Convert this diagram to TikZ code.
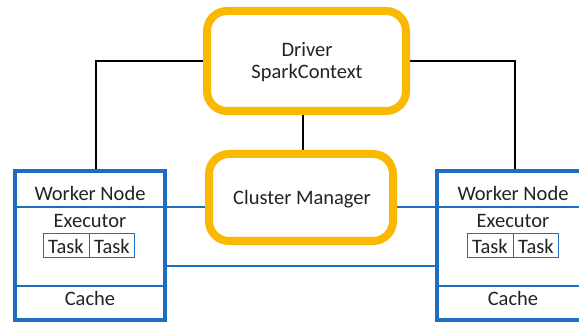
\documentclass[tikz,border=0pt]{standalone}
\usepackage{fontspec}
\setmainfont{Carlito}
\definecolor{sparkgold}{RGB}{250,184,0}
\definecolor{nodeblue}{RGB}{28,110,192}
\definecolor{inktext}{RGB}{35,35,35}
\begin{document}
\begin{tikzpicture}[x=1pt,y=-1pt,
  every node/.style={font=\fontsize{20.5}{23}\selectfont, text=inktext, inner sep=0pt},
  goldbox/.style={draw=sparkgold, line width=8pt, rounded corners=20pt, fill=white},
  workerbox/.style={draw=nodeblue, line width=4pt},
  divider/.style={draw=nodeblue, line width=1.6pt},
  taskbox/.style={draw=nodeblue, line width=1pt},
  blackwire/.style={draw=black, line width=2.8pt},
  bluewire/.style={draw=nodeblue, line width=2.4pt}]
\useasboundingbox (0,0) rectangle (579,323);
\clip (0,0) rectangle (579,323);

% connector anchors
\coordinate (dL) at (207,61);
\coordinate (dR) at (406,61);
\coordinate (wLtop) at (96,171);
\coordinate (wRtop) at (515,171);
\coordinate (cTop) at (303,154);
\coordinate (dBot) at (303,111);

% control plane wiring (behind the boxes)
\draw[blackwire] (dL) -| (wLtop);
\draw[blackwire] (dR) -| (wRtop);
\draw[blackwire] (dBot) -- (cTop);
\draw[bluewire] (165,207) coordinate (wLa) -- (209,207) coordinate (cL);
\draw[bluewire] (393,207) coordinate (cR) -- (437,207) coordinate (wRa);
\draw[bluewire] (165,266) coordinate (wLb) -- (437,266) coordinate (wRb);

% driver and cluster manager
\draw[goldbox] (207,11) rectangle (406,111);
\node (driver) at (307,50) {Driver};
\node (ctx) at (307,73) {SparkContext};
\draw[goldbox] (209,154) rectangle (393,241);
\node (cm) at (302,199) {Cluster Manager};

% left worker
\draw[workerbox, fill=white] (15,171) rectangle (165,320);
\draw[divider] (15,207) -- (165,207);
\draw[divider] (15,286) -- (165,286);
\node (wnL) at (90,193) {Worker Node};
\node (exL) at (90,221) {Executor};
\draw[taskbox] (43,234) rectangle (134,258);
\draw[taskbox] (89,234) -- (89,258);
\node (t1L) at (66,246) {Task};
\node (t2L) at (112,246) {Task};
\node (caL) at (90,298) {Cache};

% right worker (runs past the right edge)
\draw[workerbox, fill=white] (437,171) rectangle (600,320);
\draw[divider] (437,207) -- (600,207);
\draw[divider] (437,286) -- (600,286);
\node (wnR) at (513,193) {Worker Node};
\node (exR) at (513,221) {Executor};
\draw[taskbox] (467,234) rectangle (558,258);
\draw[taskbox] (513,234) -- (513,258);
\node (t1R) at (490,246) {Task};
\node (t2R) at (536,246) {Task};
\node (caR) at (513,298) {Cache};
\end{tikzpicture}
\end{document}
